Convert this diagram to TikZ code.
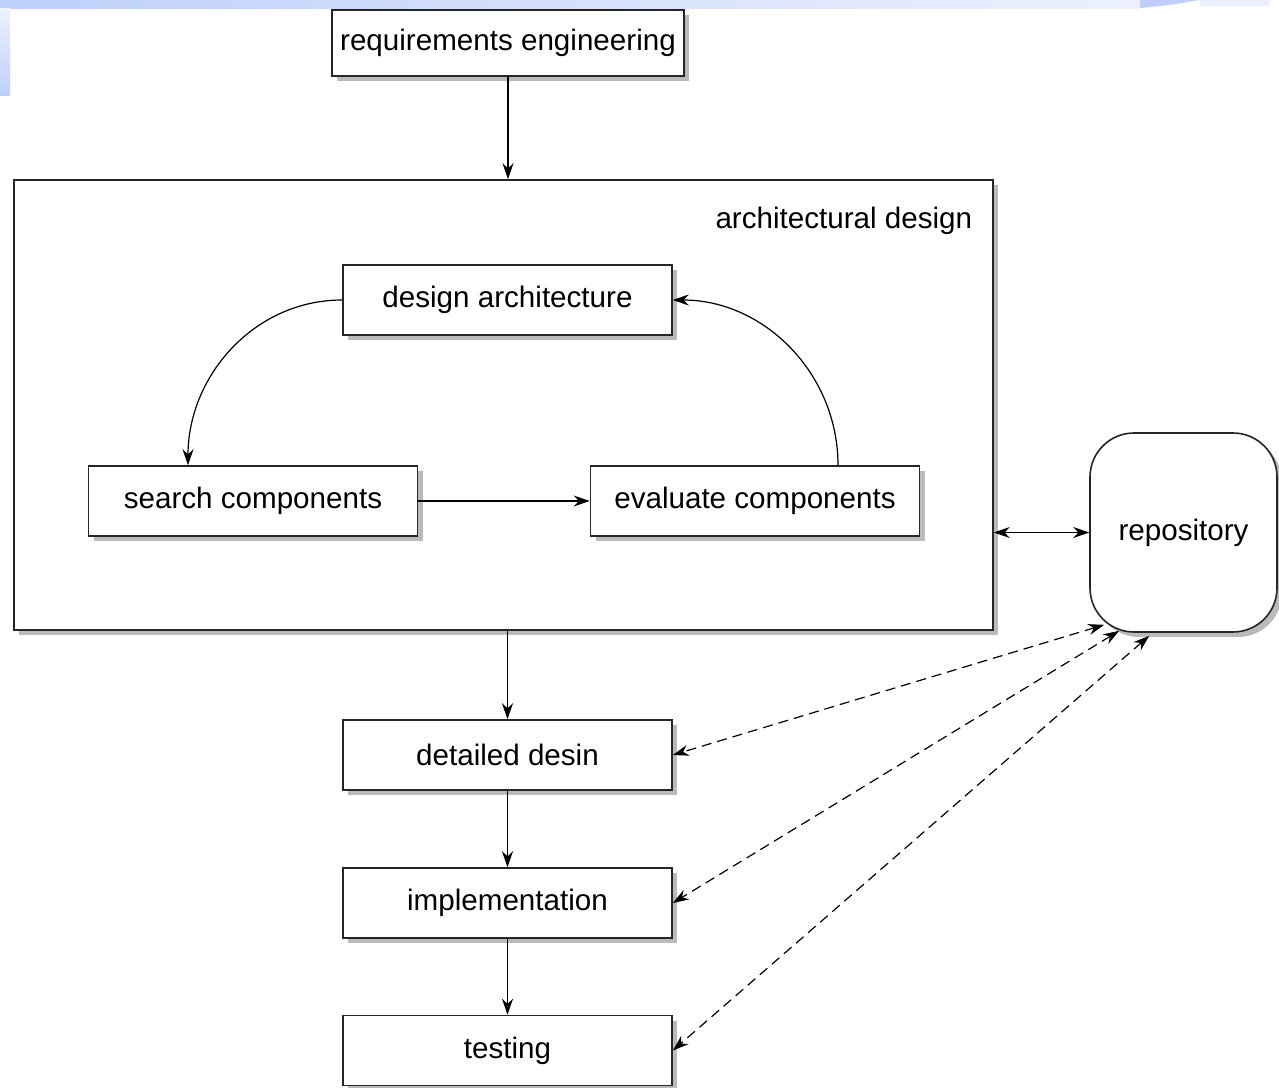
\documentclass[tikz,border=0pt]{standalone}
\usepackage{fontspec}
\setmainfont{Liberation Sans}
\usetikzlibrary{arrows.meta,shadows}
\definecolor{slide_blue}{RGB}{190,208,250}
\definecolor{slide_light}{RGB}{236,241,253}
\definecolor{shadow_gray}{RGB}{140,140,140}

\begin{document}
\begin{tikzpicture}[->,thick,>={Stealth[length=8pt,width=5.5pt]},x=0.5pt,y=-0.5pt,font=\fontsize{14.8}{17}\selectfont]
    \tikzstyle{box}=[draw=black!85, rectangle, fill=white, inner sep=0pt, text=black, minimum width=164.5pt, minimum height=35pt, drop shadow={shadow xshift=2.5pt,shadow yshift=-2.5pt,fill=shadow_gray,opacity=0.6}]
    \tikzstyle{frame}=[style=box, minimum width=489.5pt, minimum height=225pt]
    \tikzstyle{store}=[style=box, rounded corners=22pt, minimum width=93.5pt, minimum height=99.5pt]
    \tikzstyle{link}=[semithick, dashed, dash pattern=on 5pt off 3pt, <->]

    \useasboundingbox (0,0) rectangle (1279,1087);
    % slide background
    \shade[-, left color=slide_blue, right color=slide_light] (0,0) rectangle (1140,8);
    \shade[-, top color=slide_light, bottom color=slide_blue] (0,8) rectangle (10,95);
    \fill[-, slide_blue] (1140,8) .. controls (1170,5) .. (1200,0) -- (1140,0) -- cycle;
    \fill[-, slide_light] (1200,0) rectangle (1270,6);

    \node[box, minimum width=176pt, minimum height=33pt] (re) at (508,43) {requirements engineering};
    \node[frame] (arch) at (503.5,405) {};
    \node[anchor=east, inner sep=0pt] (al) at (973,221) {architectural design};
    \node[box] (da) at (507.5,300) {design architecture};
    \node[box] (sc) at (253,501) {search components};
    \node[box] (ec) at (755,501) {evaluate components};
    \node[store] (repo) at (1183.5,532.5) {repository};
    \node[box] (dd) at (507.5,755) {detailed desin};
    \node[box] (im) at (507.5,903) {implementation};
    \node[box] (te) at (507.5,1050.5) {testing};

    \path
     (re.south) edge[] (re.south |- arch.north)
     (da.west) edge[semithick,out=180,in=90] ([xshift=-32.5pt]sc.north)
     (sc) edge[] (ec)
     ([xshift=41.5pt]ec.north) edge[semithick,out=90,in=0] (da.east)
     (arch.east |- repo.west) edge[<->] (repo.west)
     (arch.south -| dd.north) edge[] (dd.north)
     (dd) edge[] (im)
     (im) edge[] (te)
     ([shift={(7.5pt,4pt)}]repo.south west) edge[link] (dd.east)
     ([shift={(15pt,1pt)}]repo.south west) edge[link] (im.east)
     ([shift={(30pt,-1.5pt)}]repo.south west) edge[link] (te.east)
     ;
\end{tikzpicture}
\end{document}
